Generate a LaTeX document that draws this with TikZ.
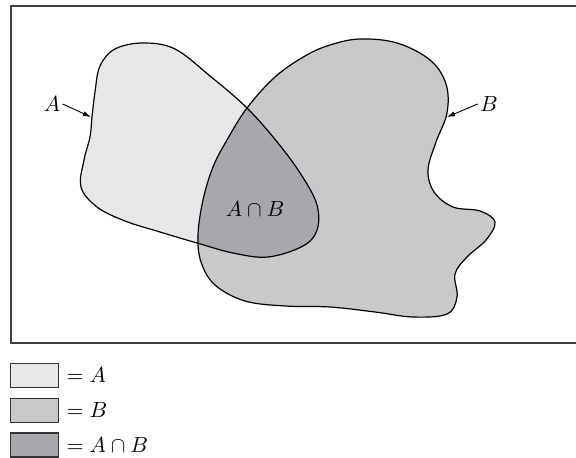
\documentclass[tikz,border=0pt]{standalone}
\usetikzlibrary{arrows.meta,positioning}

\definecolor{fillA}{HTML}{E6E7E8}
\definecolor{fillB}{HTML}{C8C9CB}
\definecolor{fillAB}{HTML}{A7A8AB}

\begin{document}
\begin{tikzpicture}[x=0.5pt, y=-0.5pt, >=Latex]

\tikzset{
  outline/.style={draw=black, line width=0.6pt},
  frame/.style={draw=black!75, line width=0.6pt},
  label/.style={inner sep=1pt, font=\fontsize{10.5}{12}\selectfont},
  arrow/.style={->, line width=0.45pt, >={Latex[length=4pt, width=2.6pt]}},
  legendbox/.style={
    rectangle, draw=black!80, line width=0.6pt,
    minimum width=24pt, minimum height=12pt, inner sep=0pt
  },
  legendtext/.style={anchor=west, inner sep=1pt, font=\fontsize{10.5}{12}\selectfont}
}

\useasboundingbox (0,0) rectangle (576,458);

% ==========================
% Region outlines
% ==========================
\def\regionA{plot[smooth cycle, tension=0.6] coordinates {
  (92,117) (95,92) (100,66) (115,49) (143,43) (175,49) (210,76)
  (247,108) (278,143) (302,176) (317,205) (317,230) (303,246)
  (268,257) (233,253) (197,243) (160,232) (125,221) (97,207)
  (81,187) (84,160) (90,137)}}
\def\regionB{plot[smooth cycle, tension=0.6] coordinates {
  (305,56) (330,45) (360,39) (397,43) (430,60) (446,84)
  (447,113) (436,142) (428,170) (434,192) (453,207) (480,211)
  (495,222) (486,240) (467,257) (455,274) (457,297) (447,314)
  (413,317) (375,312) (330,307) (285,306) (245,301) (215,285)
  (201,262) (198,235) (203,200) (213,167) (227,140) (247,108)
  (275,77)}}

% frame (open on the right)
\draw[frame] (576,6) -- (11,6) -- (11,343) -- (576,343);

% fills
\fill[fillA] \regionA;
\fill[fillB] \regionB;
\begin{scope}
  \clip \regionA;
  \fill[fillAB] \regionB;
\end{scope}

\draw[outline] \regionA;
\draw[outline] \regionB;

% ==========================
% Labels and pointers
% ==========================
\node[label] (labA) at (52,104) {$A$};
\node[label] (labB) at (489,104) {$B$};
\node[label] (labAB) at (255,209) {$A\cap B$};

\coordinate (tipA) at (91,117);
\coordinate (tipB) at (447,117);

\draw[arrow] (labA.east) -- (tipA);
\draw[arrow] (labB.west) -- (tipB);

% ==========================
% Legend
% ==========================
\node[legendbox, fill=fillA]  (legA)  at (34.5,375.5) {};
\node[legendbox, fill=fillB]  (legB)  at (34.5,410.5) {};
\node[legendbox, fill=fillAB] (legAB) at (34.5,445) {};

\node[legendtext, right=2.5pt of legA]  (txtA)  {$=A$};
\node[legendtext, right=2.5pt of legB]  (txtB)  {$=B$};
\node[legendtext, right=2.5pt of legAB] (txtAB) {$=A\cap B$};

\end{tikzpicture}
\end{document}
